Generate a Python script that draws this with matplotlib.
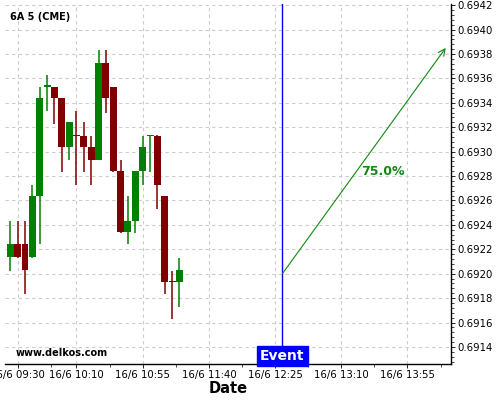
import matplotlib
matplotlib.use("Agg")
import matplotlib.pyplot as plt
from matplotlib.ticker import MultipleLocator, FixedLocator, FuncFormatter

# 5 minute candles, 6A (CME)
times = ["09:25", "09:30", "09:35", "09:40", "09:45", "09:50", "09:55", "10:00",
         "10:05", "10:10", "10:15", "10:20", "10:25", "10:30", "10:35", "10:40",
         "10:45", "10:50", "10:55", "11:00", "11:05", "11:10", "11:15", "11:20"]
opens = [0.69214, 0.69224, 0.69224, 0.69214, 0.69264, 0.69353, 0.69353, 0.69344,
         0.69304, 0.69314, 0.69313, 0.69304, 0.69293, 0.69373, 0.69353, 0.69284,
         0.69234, 0.69243, 0.69284, 0.69313, 0.69313, 0.69264, 0.69194, 0.69193]
highs = [0.69243, 0.69243, 0.69243, 0.69273, 0.69353, 0.69363, 0.69353, 0.69344,
         0.69324, 0.69333, 0.69324, 0.69313, 0.69383, 0.69383, 0.69353, 0.69293,
         0.69264, 0.69284, 0.69313, 0.69314, 0.69314, 0.69264, 0.69202, 0.69213]
lows = [0.69202, 0.69213, 0.69183, 0.69213, 0.69224, 0.69333, 0.69323, 0.69283,
        0.69293, 0.69273, 0.69283, 0.69273, 0.69293, 0.69332, 0.69283, 0.69233,
        0.69224, 0.69233, 0.69273, 0.69283, 0.69253, 0.69183, 0.69163, 0.69173]
closes = [0.69224, 0.69214, 0.69203, 0.69264, 0.69344, 0.69355, 0.69344, 0.69304,
          0.69324, 0.69313, 0.69304, 0.69293, 0.69373, 0.69344, 0.69284, 0.69234,
          0.69243, 0.69284, 0.69304, 0.69314, 0.69273, 0.69193, 0.69193, 0.69203]

tick_times = ["09:30", "10:10", "10:55", "11:40", "12:25", "13:10", "13:55"]
event_time = "12:30"
arrow_end_time = "14:21"
arrow_start_price = 0.69200
arrow_end_price = 0.69385
prob_label = "75.0%"


def to_min(s):
    h, m = s.split(":")
    return int(h) * 60 + int(m)


xs = [to_min(t) for t in times]

fig = plt.figure(figsize=(5, 4), dpi=100)
ax = fig.add_axes([0.01, 0.09, 0.892, 0.9])

for x, o, h, l, c in zip(xs, opens, highs, lows, closes):
    col = "#008000" if c >= o else "#800000"
    ax.vlines(x, l, h, color=col, lw=1.1, zorder=3)
    body = max(abs(c - o), 0.000009)
    ax.bar(x, body, bottom=min(o, c), width=4.75, color=col, lw=0, zorder=4)

ev = to_min(event_time)
ax.axvline(ev, color="blue", lw=1, zorder=5)
ax.annotate("", xy=(to_min(arrow_end_time), arrow_end_price),
            xytext=(ev, arrow_start_price),
            arrowprops=dict(arrowstyle="->", color="#118811", lw=0.8,
                            mutation_scale=12, shrinkA=0, shrinkB=0), zorder=5)
ax.text(to_min("13:38"), 0.69284, prob_label, color="#118811",
        fontsize=9, fontweight="bold", ha="center", va="center")

ax.set_xlim(to_min("09:21") + 0.4, to_min("14:24") + 0.6)
ax.set_ylim(0.69126, 0.69421)

ax.yaxis.tick_right()
ax.yaxis.set_major_locator(MultipleLocator(0.0002))
ax.yaxis.set_minor_locator(MultipleLocator(0.00004))
ax.yaxis.set_major_formatter(FuncFormatter(lambda v, p: f"{v:.4f}"))
ax.xaxis.set_major_locator(FixedLocator([to_min(t) for t in tick_times]))
ax.xaxis.set_minor_locator(FixedLocator(
    [to_min(t) + 22.5 for t in tick_times] + [to_min("09:30") - 20]))
ax.set_xticklabels(["16/6 " + t for t in tick_times])
ax.tick_params(axis="both", labelsize=7.3, length=3, width=0.6, pad=1.5)
ax.tick_params(which="minor", length=2, width=0.5)

ax.grid(True, which="major", color="#cccccc", ls=(0, (3, 3)), lw=0.8)
for s in ["left", "top"]:
    ax.spines[s].set_visible(False)
ax.spines["right"].set_linewidth(1)
ax.spines["bottom"].set_linewidth(1)

ax.set_xlabel("Date", fontsize=10.5, fontweight="bold", labelpad=0.5)

ax.text(0.012, 0.963, "6A 5 (CME)", transform=ax.transAxes, fontsize=7,
        fontweight="bold", va="center")
ax.text(0.023, 0.031, "www.delkos.com", transform=ax.transAxes, fontsize=7,
        fontweight="bold", va="center")
ax.text(ev, 0.691325, "Event", color="white", fontsize=10,
        fontweight="bold", ha="center", va="center", zorder=6,
        bbox=dict(boxstyle="square,pad=0.22", fc="blue", ec="blue"))

fig.savefig("out.png", dpi=100)
